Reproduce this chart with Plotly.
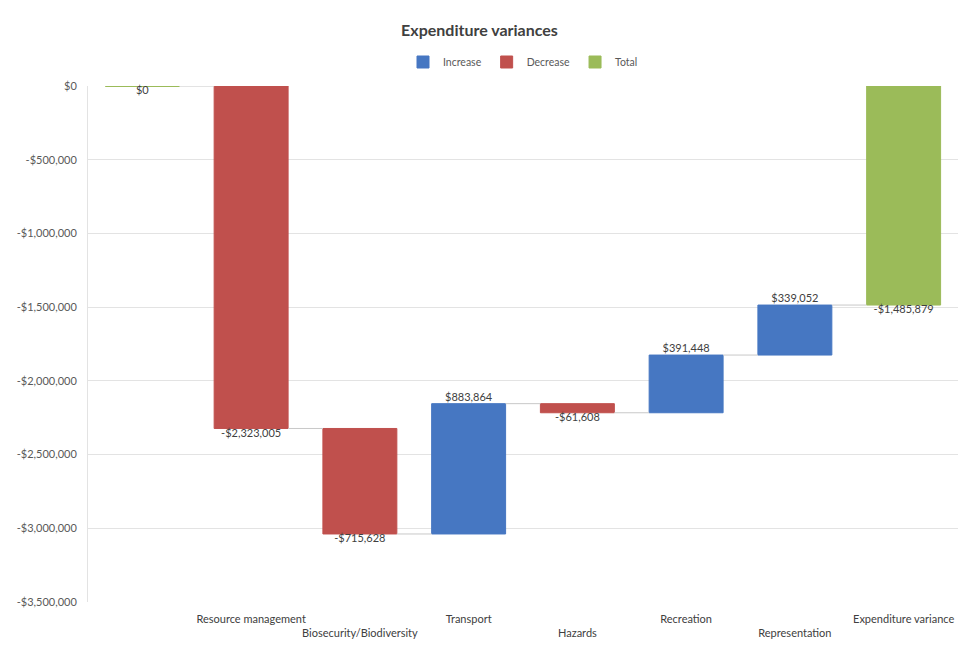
import plotly.graph_objects as go

# ---- data ----
categories = ["", "Resource management", "Biosecurity/Biodiversity", "Transport",
              "Hazards", "Recreation", "Representation", "Expenditure variance"]
kinds = ["total", "decrease", "decrease", "increase", "decrease", "increase", "increase", "total"]
values = [0, -2323005, -715628, 883864, -61608, 391448, 339052, -1485879]
labels = ["$0", "-$2,323,005", "-$715,628", "$883,864", "-$61,608", "$391,448", "$339,052", "-$1,485,879"]
y_tickvals = [0, -500000, -1000000, -1500000, -2000000, -2500000, -3000000, -3500000]
y_ticktext = ["$0", "-$500,000", "-$1,000,000", "-$1,500,000", "-$2,000,000",
              "-$2,500,000", "-$3,000,000", "-$3,500,000"]

colors = {"increase": "#4677C2", "decrease": "#C0504D", "total": "#9BBB59"}
names = {"increase": "Increase", "decrease": "Decrease", "total": "Total"}
BW = 0.68

# compute bases / ends
bases, ends = [], []
level = 0
for k, v in zip(kinds, values):
    if k == "total":
        bases.append(0)
        ends.append(v)
        level = v
    else:
        bases.append(level)
        level = level + v
        ends.append(level)

fig = go.Figure()

# connectors
cx, cy = [], []
for i in range(len(categories) - 1):
    lv = ends[i]
    cx += [i + BW / 2, i + 1 - BW / 2, None]
    cy += [lv, lv, None]
fig.add_trace(go.Scatter(x=cx, y=cy, mode="lines", line=dict(color="#C8C8C8", width=1),
                         showlegend=False, hoverinfo="skip"))

for k in ["increase", "decrease", "total"]:
    idx = [i for i, kk in enumerate(kinds) if kk == k]
    fig.add_trace(go.Bar(
        x=idx,
        y=[ends[i] - bases[i] for i in idx],
        base=[bases[i] for i in idx],
        width=BW,
        marker=dict(color=colors[k], line=dict(color=colors[k], width=1)),
        name=names[k],
    ))

# zero-height total marker line(s)
for i, (k, v) in enumerate(zip(kinds, values)):
    if k == "total" and v == 0:
        fig.add_trace(go.Scatter(x=[i - BW / 2, i + BW / 2], y=[0, 0], mode="lines",
                                 line=dict(color=colors["total"], width=2),
                                 showlegend=False, hoverinfo="skip"))

# data labels
tx, ty, tp = [], [], []
for i, k in enumerate(kinds):
    tx.append(i)
    ty.append(ends[i])
    tp.append("top center" if k == "increase" else "bottom center")
fig.add_trace(go.Scatter(x=tx, y=ty, mode="text", text=labels, textposition=tp,
                         textfont=dict(size=11, color="#404040"),
                         showlegend=False, hoverinfo="skip", cliponaxis=False))

ticktext = [c if i % 2 == 1 else "<br>" + c for i, c in enumerate(categories)]

fig.update_layout(
    width=959, height=653,
    margin=dict(l=88, r=1, t=86, b=51, autoexpand=False),
    paper_bgcolor="white", plot_bgcolor="white",
    font=dict(family="Lato, sans-serif", color="#595959", size=11),
    title=dict(text="<b>Expenditure variances</b>", x=0.5, xanchor="center",
               y=1 - 30 / 653, yanchor="middle", yref="container",
               font=dict(size=16, color="#404040")),
    legend=dict(orientation="h", x=0.5, xanchor="center", y=1 + 24 / 516, yanchor="middle",
                font=dict(size=10.5, color="#595959"), traceorder="normal"),
    barmode="overlay",
    showlegend=True,
)
fig.update_xaxes(range=[-0.5, len(categories) - 0.5], tickvals=list(range(len(categories))),
                 ticktext=ticktext, showgrid=False, zeroline=False, showline=False,
                 tickangle=0, automargin=False,
                 tickfont=dict(size=11, color="#404040"), ticks="", ticklabelstandoff=9)
fig.update_yaxes(range=[-3500000, 0], tickvals=y_tickvals, ticktext=y_ticktext,
                 showgrid=True, gridcolor="#E3E3E3", gridwidth=1, zeroline=False,
                 showline=True, linecolor="#E3E3E3", linewidth=1, automargin=False,
                 tickfont=dict(size=11, color="#595959"), ticks="", ticklabelstandoff=8)

fig.write_html("out.html")
